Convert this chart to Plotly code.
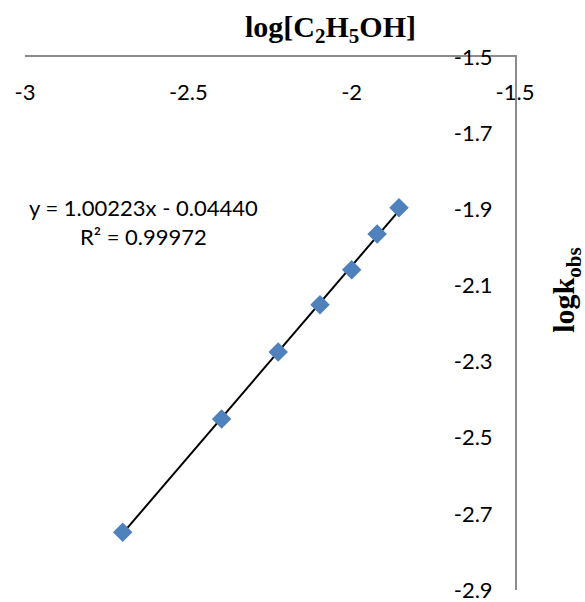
import plotly.graph_objects as go

# Data
log_ethanol = [-2.701, -2.398, -2.225, -2.097, -2.000, -1.922, -1.855]
log_kobs = [-2.748, -2.451, -2.275, -2.151, -2.059, -1.965, -1.896]
slope = 1.00223
intercept = -0.04440
r_squared = 0.99972
x_ticks = [-3, -2.5, -2, -1.5]
x_ticktext = ["-3", "-2.5", "-2", "-1.5"]
y_ticks = [-2.9, -2.7, -2.5, -2.3, -2.1, -1.9, -1.7, -1.5]
y_ticktext = ["-2.9", "-2.7", "-2.5", "-2.3", "-2.1", "-1.9", "-1.7", "-1.5"]

x_line = [min(log_ethanol), max(log_ethanol)]
y_line = [slope * v + intercept for v in x_line]

tick_font = dict(family="Lato, Open Sans, sans-serif", size=22, color="#000000")
title_font = dict(family="Liberation Serif, Times New Roman, serif", size=30, color="#000000", weight="bold")

fig = go.Figure()
fig.add_trace(go.Scatter(
    x=x_line, y=y_line, mode="lines",
    line=dict(color="#000000", width=2), showlegend=False, hoverinfo="skip"))
fig.add_trace(go.Scatter(
    x=log_ethanol, y=log_kobs, mode="markers",
    marker=dict(symbol="diamond", size=15, color="#4F81BD", line=dict(width=0)),
    showlegend=False))

fig.update_layout(
    width=585, height=602,
    margin=dict(l=25, r=70, t=57, b=12, autoexpand=False),
    paper_bgcolor="white", plot_bgcolor="white",
    xaxis=dict(
        range=[-3, -1.5], side="top", tickvals=x_ticks, ticktext=x_ticktext,
        ticklabelposition="inside", ticklabeloverflow="allow", ticks="",
        ticklabelstandoff=29, automargin=False,
        showgrid=False, zeroline=False, showline=True, linecolor="#8C8C8C", linewidth=1.5,
        tickfont=tick_font),
    yaxis=dict(
        range=[-2.9, -1.5], side="right", tickvals=y_ticks, ticktext=y_ticktext,
        ticklabelposition="inside", ticklabeloverflow="allow", ticks="",
        ticklabelstandoff=24, automargin=False,
        showgrid=False, zeroline=False, showline=True, linecolor="#8C8C8C", linewidth=1.5,
        tickfont=tick_font),
    annotations=[
        dict(text="log[C<sub>2</sub>H<sub>5</sub>OH]", xref="paper", yref="paper",
             x=(330 - 25) / 490, y=1 + (57.5 - 30) / 532.5, xanchor="center", yanchor="middle",
             showarrow=False, font=title_font),
        dict(text="logk<sub>obs</sub>", xref="paper", yref="paper",
             x=(566 - 25) / 490, y=1 - (291 - 57.5) / 532.5, xanchor="center", yanchor="middle",
             textangle=-90, showarrow=False, font=title_font),
        dict(text=f"y = {slope:.5f}x - {abs(intercept):.5f}<br>R² = {r_squared:.5f}",
             xref="paper", yref="paper",
             x=(143 - 25) / 490, y=1 - (222 - 57.5) / 532.5, xanchor="center", yanchor="middle",
             align="center", showarrow=False, font=tick_font),
    ],
)

fig.write_html("out.html")
